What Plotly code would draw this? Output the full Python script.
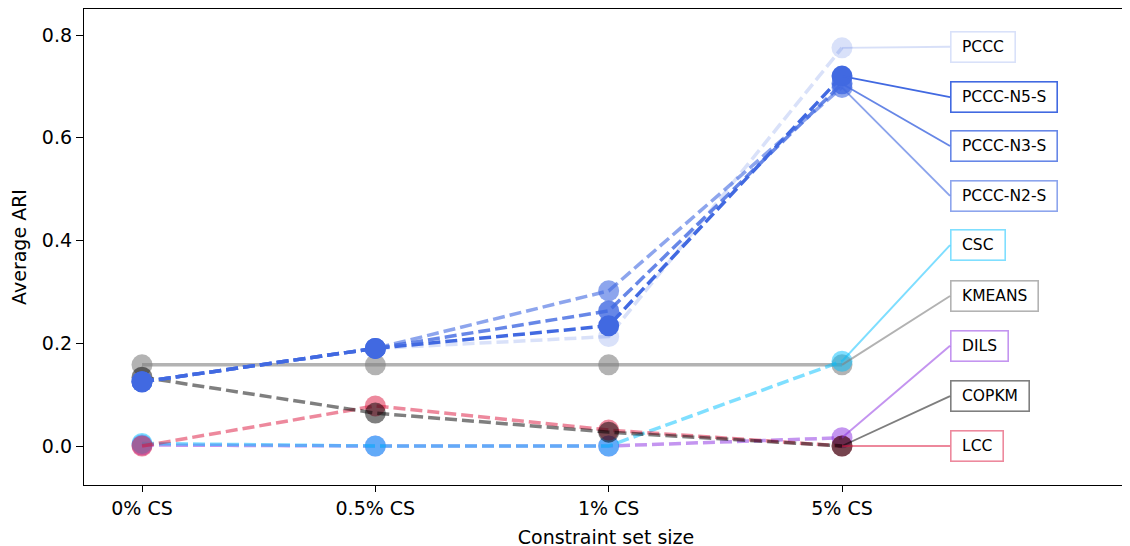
import plotly.graph_objects as go

# ---- data ----
categories = ["0% CS", "0.5% CS", "1% CS", "5% CS"]
methods = ["PCCC", "PCCC-N5-S", "PCCC-N3-S", "PCCC-N2-S", "CSC", "KMEANS", "DILS", "COPKM", "LCC"]

pccc      = [0.125, 0.190, 0.213, 0.775]
pccc_n5_s = [0.125, 0.190, 0.234, 0.720]
pccc_n3_s = [0.125, 0.190, 0.263, 0.705]
pccc_n2_s = [0.125, 0.190, 0.302, 0.698]
csc       = [0.005, 0.000, 0.000, 0.165]
kmeans    = [0.158, 0.158, 0.158, 0.158]
dils      = [0.002, 0.000, 0.000, 0.016]
copkm     = [0.134, 0.064, 0.027, 0.000]
lcc       = [0.000, 0.078, 0.031, 0.000]

values = {
    "PCCC": pccc, "PCCC-N5-S": pccc_n5_s, "PCCC-N3-S": pccc_n3_s, "PCCC-N2-S": pccc_n2_s,
    "CSC": csc, "KMEANS": kmeans, "DILS": dils, "COPKM": copkm, "LCC": lcc,
}

# ---- styles ----
colors = {
    "PCCC": "rgba(65,105,225,0.2)",
    "PCCC-N5-S": "rgba(65,105,225,1.0)",
    "PCCC-N3-S": "rgba(65,105,225,0.8)",
    "PCCC-N2-S": "rgba(65,105,225,0.6)",
    "CSC": "rgba(0,191,255,0.5)",
    "KMEANS": "rgba(128,128,128,0.6)",
    "DILS": "rgba(138,43,226,0.5)",
    "COPKM": "rgba(0,0,0,0.5)",
    "LCC": "rgba(220,20,60,0.5)",
}
solid = {"KMEANS"}
draw_order = ["KMEANS", "DILS", "CSC", "LCC", "COPKM", "PCCC", "PCCC-N2-S", "PCCC-N3-S", "PCCC-N5-S"]
label_y = {
    "PCCC": 0.777, "PCCC-N5-S": 0.679, "PCCC-N3-S": 0.584, "PCCC-N2-S": 0.487,
    "CSC": 0.391, "KMEANS": 0.292, "DILS": 0.195, "COPKM": 0.097, "LCC": 0.0,
}
label_x = 3.463

xpos = list(range(len(categories)))

fig = go.Figure()
for m in draw_order:
    c = colors[m]
    fig.add_trace(go.Scatter(
        x=xpos, y=values[m], mode="lines+markers", name=m,
        line=dict(color=c, width=3.5, dash="solid" if m in solid else "12px,5px"),
        marker=dict(color=c, size=21, line=dict(width=0)),
        showlegend=False,
    ))

for m in methods:
    c = colors[m]
    fig.add_annotation(
        x=3, y=values[m][-1], xref="x", yref="y",
        ax=label_x, ay=label_y[m], axref="x", ayref="y",
        text=" " + m + " ", showarrow=True, arrowhead=0, arrowwidth=1.9,
        arrowcolor=c, standoff=0, startstandoff=0,
        xanchor="left", yanchor="middle",
        bordercolor=c, borderwidth=1.6, borderpad=5.5, bgcolor="white",
        font=dict(family="DejaVu Sans", size=15.5, color="black"),
    )

axis_common = dict(
    showline=True, linecolor="black", linewidth=1.3, mirror=True,
    ticks="outside", tickwidth=1.3, tickcolor="black",
    showgrid=False, zeroline=False,
    tickfont=dict(family="DejaVu Sans", size=19, color="black"),
)

# The page body has an 8px default margin; margins below compensate for it.
fig.update_layout(
    width=1130, height=546,
    margin=dict(l=76, r=10, t=1, b=69, autoexpand=False),
    plot_bgcolor="white", paper_bgcolor="white",
    font=dict(family="DejaVu Sans", color="black"),
    xaxis=dict(
        range=[-0.2486, 4.2257], tickvals=xpos, ticktext=categories, ticklen=6,
        title=dict(text="Constraint set size", font=dict(size=19, family="DejaVu Sans"), standoff=12),
        **axis_common,
    ),
    yaxis=dict(
        range=[-0.0759, 0.8506], tickvals=[0.0, 0.2, 0.4, 0.6, 0.8], ticklen=7,
        ticktext=["0.0", "0.2", "0.4", "0.6", "0.8"],
        title=dict(text="Average ARI", font=dict(size=19, family="DejaVu Sans"), standoff=11),
        **axis_common,
    ),
)

fig.write_html("out.html")
